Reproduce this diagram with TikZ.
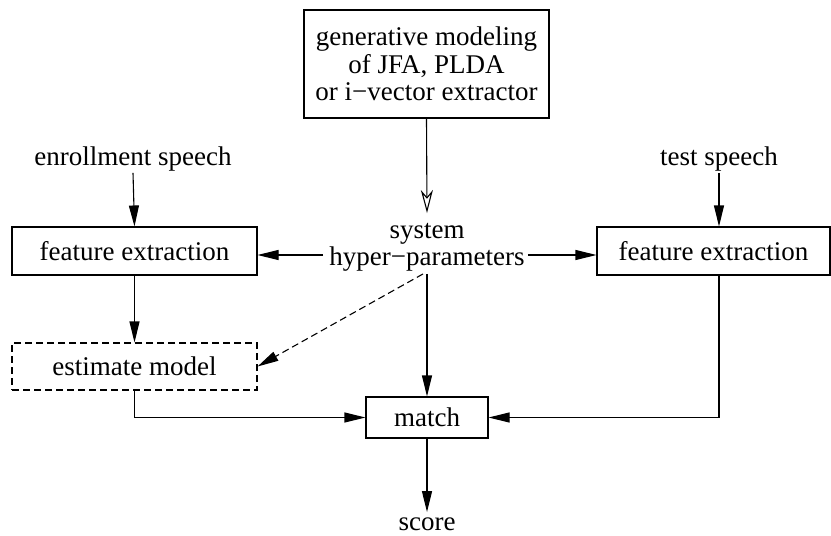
\documentclass[tikz,border=0pt]{standalone}
\usepackage{fontspec}
\setmainfont{Liberation Serif}
\usetikzlibrary{arrows.meta}
\begin{document}
\begin{tikzpicture}[x=1pt,y=-1pt,
  every node/.style={font=\fontsize{27}{27.5}\selectfont, inner sep=0pt},
  box/.style={draw, line width=1.1pt},
  arr/.style={-{Triangle[length=21pt,width=10pt]}, line width=1.1pt},
  openarr/.style={-{Stealth[open,length=23pt,width=12pt,inset=7pt]}, line width=1.1pt},
]
\useasboundingbox (0,0) rectangle (831,536);

% boxes
\node[box, minimum width=245pt, minimum height=108pt, align=center] (gen) at (426.5,64)
  {generative modeling\\of JFA, PLDA\\or i−vector extractor};
\node[box, minimum width=245pt, minimum height=48pt] (fe1) at (134.5,251) {feature extraction};
\node[box, minimum width=233pt, minimum height=48pt] (fe2) at (713.5,251) {feature extraction};
\node[box, dashed, dash pattern=on 7pt off 4pt, minimum width=245pt, minimum height=47pt] (em) at (134.5,366.5) {estimate model};
\node[box, minimum width=122pt, minimum height=41pt] (match) at (427,417.5) {match};

% free labels
\node[align=center] (sys) at (427,247.5) {system\\hyper−parameters};
\node[anchor=base] (enr) at (133,165) {enrollment speech};
\node[anchor=base] (tst) at (719,165) {test speech};
\node[anchor=base] (score) at (427,530.5) {score};

% connectors
\draw[openarr] (gen.south) -- ([yshift=10pt]sys.north);
\draw[arr] ([xshift=-6pt]sys.west |- 0,255) -- (fe1.east |- 0,255);
\draw[arr] ([xshift=3pt]sys.east |- 0,255) -- (fe2.west |- 0,255);
\draw[arr] ([yshift=-2pt]enr.south) -- (fe1.north);
\draw[arr] ([yshift=-2pt]tst.south) -- (tst.south |- fe2.north);
\draw[arr] (fe1.south) -- (em.north);
\draw[arr, dashed, dash pattern=on 7pt off 4pt] ([xshift=-4pt,yshift=-2pt]sys.south) -- (em.east);
\draw[arr] ([yshift=-2pt]sys.south) -- (match.north);
\draw[arr] (em.south) |- (match.west);
\draw[arr] (tst.south |- fe2.south) |- (match.east);
\draw[arr] (match.south) -- ([yshift=5.5pt]score.north);
\end{tikzpicture}
\end{document}
